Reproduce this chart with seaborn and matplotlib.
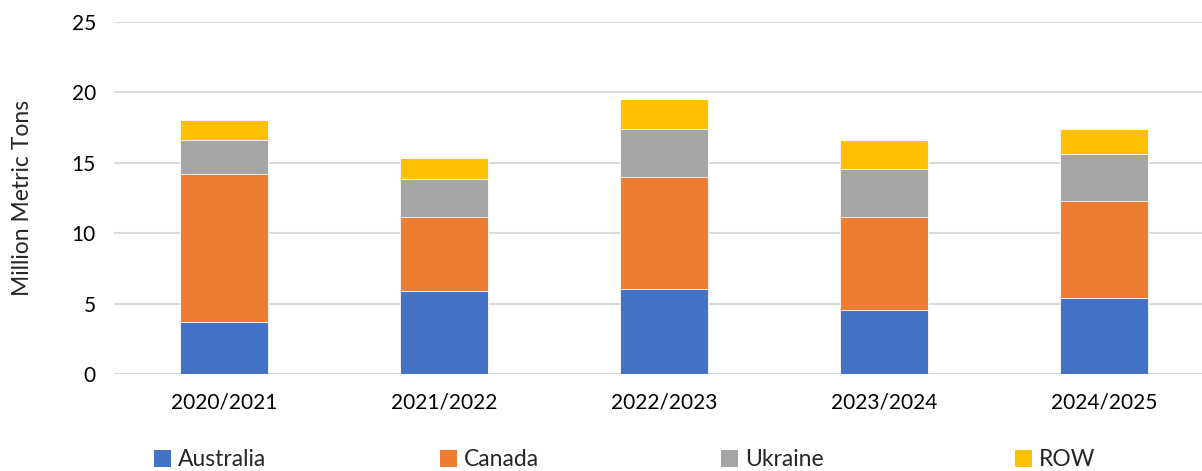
import numpy as np
import pandas as pd
import matplotlib
matplotlib.use("Agg")
import matplotlib.pyplot as plt
from matplotlib.patches import Patch
import seaborn as sns

# values (million metric tons)
years = ["2020/2021", "2021/2022", "2022/2023", "2023/2024", "2024/2025"]
australia = [3.72, 5.87, 6.04, 4.55, 5.40]
canada = [10.51, 5.26, 7.95, 6.58, 6.89]
ukraine = [2.37, 2.70, 3.41, 3.43, 3.31]
row = [1.42, 1.49, 2.13, 2.09, 1.83]

series = ["Australia", "Canada", "Ukraine", "ROW"]
colors = ["#4472C4", "#ED7D31", "#A5A5A5", "#FFC000"]

sns.set_style("white")
plt.rcParams["font.family"] = ["Lato", "DejaVu Sans"]

df = pd.DataFrame({"year": years, "Australia": australia, "Canada": canada,
                   "Ukraine": ukraine, "ROW": row})
cum = df[series].cumsum(axis=1)

fig = plt.figure(figsize=(12.02, 4.71), dpi=100)
ax = fig.add_axes([114 / 1202, 1 - 374 / 471, 1 - 114 / 1202, (374 - 22) / 471])

# draw the stack from the top layer down so each lower layer covers the one above
for name, col in reversed(list(zip(series, colors))):
    sns.barplot(x=df["year"], y=cum[name], color=col, saturation=1, width=0.4,
                edgecolor="white", linewidth=0.6, ax=ax, zorder=3)

ax.set_ylim(0, 25)
ax.set_yticks(range(0, 26, 5))
ax.set_xlim(-0.5, 4.5 - 12 / 220)
ax.yaxis.grid(True, color="#d9d9d9", linewidth=1.5, zorder=0)
ax.set_axisbelow(True)
for s in ax.spines.values():
    s.set_visible(False)
ax.tick_params(axis="y", length=0, pad=13, labelsize=15, labelcolor="#000000")
ax.tick_params(axis="x", length=0, pad=13, labelsize=15, labelcolor="#000000")
ax.set_xlabel("")
ax.set_ylabel("Million Metric Tons", fontsize=16.5)
ax.yaxis.set_label_coords(-81 / 1088, 0.5)

# legend entries spread across the bottom like the original
legend_x = [154, 440, 721, 1015]
for name, col, lx in zip(series, colors, legend_x):
    fig.legend(handles=[Patch(facecolor=col, edgecolor="none", label=name)],
               loc="center left", bbox_to_anchor=(lx / 1202, 1 - 460 / 471),
               frameon=False, fontsize=16.5, handlelength=0.75, handleheight=0.75,
               handletextpad=0.3, borderpad=0, borderaxespad=0)

fig.savefig("out.png", dpi=100)
